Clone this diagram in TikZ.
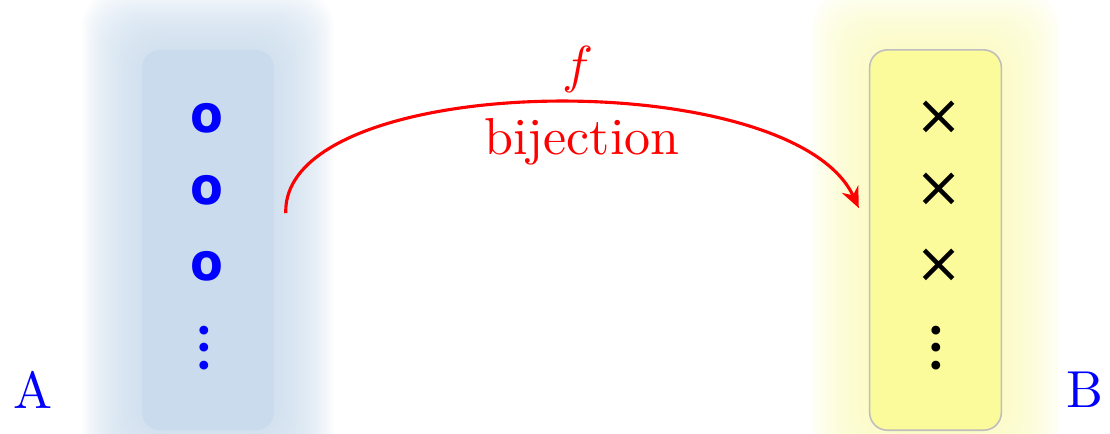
\documentclass[tikz,border=0pt]{standalone}
\usepackage{fontspec}
\newfontfamily\glyphfont{DejaVu Sans}
\usepackage{tikz}
\usetikzlibrary{arrows.meta,positioning,backgrounds}
\definecolor{setAfill}{RGB}{201,219,236}
\definecolor{setBfill}{RGB}{252,251,155}
\definecolor{setBline}{RGB}{190,190,190}
\definecolor{glowB}{RGB}{250,250,185}

\begin{document}
\begin{tikzpicture}[setbox/.style={minimum width=0.89cm,minimum height=2.57cm,rounded corners=0.12cm,inner sep=0pt},
  elem/.style={font=\glyphfont\bfseries,inner sep=0pt},
  more/.style={rotate=90,inner sep=0pt,font=\glyphfont\fontsize{5.8}{6}\selectfont},
  setname/.style={text=blue,inner sep=0pt}]
  \useasboundingbox (0,0) rectangle (7.5,2.926);
  \node[setbox,fill=setAfill] (setA) at (1.405,1.304) {};
  \node[setbox,fill=setBfill,draw=setBline,line width=0.3pt] (setB) at (6.321,1.304) {};
  \foreach \y [count=\i] in {2.128,1.642,1.128} {
    \node[elem,text=blue,xscale=0.92] (a\i) at (1.399,\y) {o};
    \node[elem,font=\glyphfont,scale=1.08] (b\i) at (6.345,\y) {×};
  }
  \node[more,text=blue] (adots) at (1.405,0.574) {•••};
  \node[more] (bdots) at (6.35,0.574) {•••};
  \begin{scope}[on background layer]
    \foreach \g in {0.40,0.39,...,0.01} {
      \fill[setAfill,opacity=0.045,rounded corners=0.25cm] ([shift={(-\g,-\g)}]setA.south west) rectangle ([shift={(\g,\g)}]setA.north east);
      \fill[glowB,opacity=0.035,rounded corners=0.25cm] ([shift={(-\g,-\g)}]setB.south west) rectangle ([shift={(\g,\g)}]setB.north east);
    }
  \end{scope}
  % the map between the two sets
  \coordinate (src) at ([shift={(0.074,0.182)}]setA.east);
  \coordinate (dst) at ([shift={(-0.068,0.216)}]setB.west);
  \draw[red,line width=0.6pt,-{Stealth[length=1.4mm,width=1.2mm,inset=0.45mm]}] (src) .. controls (1.90,2.45) and (5.35,2.5) .. (dst);
  \node[text=red,inner sep=0pt] (fname) at (3.905,2.453) {$f$};
  \node[text=red,inner sep=0pt] (kind) at (3.932,1.966) {bijection};
  \node[setname] (nameA) at (0.223,0.29) {A};
  \node[setname] (nameB) at (7.331,0.29) {B};
\end{tikzpicture}
\end{document}
